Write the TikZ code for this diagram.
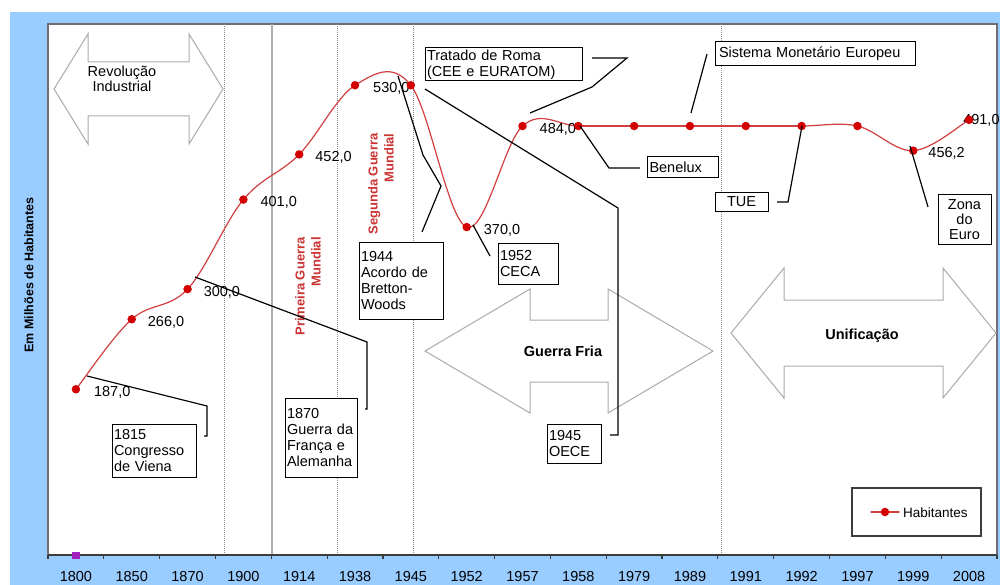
\documentclass[tikz,border=0pt]{standalone}
\usepackage{fontspec}
\setmainfont{Liberation Sans}
\usetikzlibrary{calc}
\definecolor{frameblue}{RGB}{153,204,255}
\definecolor{curvered}{RGB}{208,64,64}
\definecolor{markred}{RGB}{210,0,0}
\definecolor{labelred}{RGB}{204,51,51}
\definecolor{arrowgray}{RGB}{170,170,170}
\definecolor{gridgray}{RGB}{140,140,140}
\definecolor{solidgray}{RGB}{175,175,175}
\definecolor{axisgray}{RGB}{60,60,60}
\definecolor{bordergray}{RGB}{110,110,120}
\definecolor{markpurple}{RGB}{160,32,192}
\newcommand\fsA{\fontsize{14.5}{16}\selectfont}
\newcommand\fsB{\fontsize{14.5}{15}\selectfont}
\tikzset{
  curve/.style={curvered, line width=1.2pt, line cap=round},
  datadot/.style={circle, fill=markred, inner sep=0pt, minimum size=8.5pt},
  vallabel/.style={anchor=west, font=\fsA, inner sep=0pt},
  yearlabel/.style={font=\fsA, inner sep=0pt},
  callbox/.style={draw=black, fill=white, line width=1pt, font=\fsA, align=left, inner xsep=2pt, inner ysep=0pt},
  callline/.style={black, line width=1.2pt, line join=miter},
  bigarrow/.style={draw=arrowgray, fill=white, line width=1pt, line join=miter},
  vdot/.style={gridgray, line width=1pt, dash pattern=on 1pt off 1pt},
  vsolid/.style={solidgray, line width=1.5pt},
  axisline/.style={axisgray, line width=1.5pt},
  warlabel/.style={labelred, font=\fontsize{13}{16}\selectfont\bfseries, rotate=90, align=right, inner sep=0pt},
  arrowtext/.style={font=\fsA\bfseries, align=center, inner sep=0pt}
}
\begin{document}
\begin{tikzpicture}[x=1pt,y=-1pt]
\useasboundingbox (0,0) rectangle (1000,585);
% frame
\fill[white] (0,0) rectangle (1000,585);
\fill[frameblue] (10,12) rectangle (1000,585);
\fill[white] (48,24) rectangle (997,555);
\draw[bordergray, line width=1.2pt] (48,555) -- (48,24) -- (997,24) -- (997,555);

% y label
\node[rotate=90, font=\fontsize{12.5}{15}\selectfont\bfseries, inner sep=0pt] (ylab) at (29,275) {Em Milhões de Habitantes};

% vertical lines
\draw[vdot] (224,24) -- (224,555);
\draw[vsolid] (272,24) -- (272,555);
\draw[vdot] (337,24) -- (337,555);
\draw[vdot] (413,24) -- (413,555);
\draw[vdot] (721,24) -- (721,555);

% big double arrows
\draw[bigarrow] (54,89) -- (88,34) -- (88,62) -- (189,62) -- (189,34) -- (223,89) -- (189,144) -- (189,116) -- (88,116) -- (88,144) -- cycle;
\node[font=\fsB, align=center, inner sep=0pt] (revo) at (122,79) {Revolução\\Industrial};
\draw[bigarrow] (425,351) -- (530,289) -- (530,320) -- (608,320) -- (608,289) -- (713,351) -- (608,413) -- (608,382) -- (530,382) -- (530,413) -- cycle;
\node[arrowtext] (fria) at (563,351) {Guerra Fria};
\draw[bigarrow] (731,333) -- (784,268) -- (784,300) -- (943,300) -- (943,268) -- (996,333) -- (943,398) -- (943,366) -- (784,366) -- (784,398) -- cycle;
\node[arrowtext] (unif) at (862,336) {Unificação};

% war labels
\node[warlabel] (war1) at (308,286.5) {Primeira Guerra\\Mundial};
\node[warlabel] (war2) at (381,184) {Segunda Guerra\\Mundial};

% axis
\draw[axisline] (48,555) -- (997,555);
\foreach \i in {0,...,17} \draw[axisgray, line width=1.2pt] ({48+55.8235*\i},555) -- ++(0,4);
\foreach \i/\yr in {0/1800,1/1850,2/1870,3/1900,4/1914,5/1938,6/1945,7/1952,8/1957,9/1958,10/1979,11/1989,12/1991,13/1992,14/1997,15/1999,16/2008}
  \node[yearlabel] (yr\i) at ({48+55.8235*(\i+0.5)},577) {\yr};
\fill[markpurple] (72,551.5) rectangle (80,558.5);

% data points
\foreach \i/\v in {0/187,1/266,2/300,3/401,4/452,5/530,6/530,7/370,8/484,9/484,10/484,11/484,12/484,13/484,14/484,15/456.2,16/491}
  \coordinate (p\i) at ({48+55.8235*(\i+0.5)},{555-0.8863*\v});

% smoothed curve (Catmull-Rom)
\foreach \i in {0,...,15}{
  \pgfmathtruncatemacro\ia{max(\i-1,0)}
  \pgfmathtruncatemacro\ib{\i+1}
  \pgfmathtruncatemacro\ic{min(\i+2,16)}
  \draw[curve] (p\i) .. controls ($(p\i)+1/6*(p\ib)-1/6*(p\ia)$) and ($(p\ib)-1/6*(p\ic)+1/6*(p\i)$) .. (p\ib);
}

% value labels
\node[vallabel] (l0) at ($(p0)+(18,3)$) {187,0};
\node[vallabel] (l1) at ($(p1)+(16,3)$) {266,0};
\node[vallabel] (l2) at ($(p2)+(16,3)$) {300,0};
\node[vallabel] (l3) at ($(p3)+(17,3)$) {401,0};
\node[vallabel] (l4) at ($(p4)+(16,3)$) {452,0};
\node[vallabel] (l5) at ($(p5)+(18,3)$) {530,0};
\node[vallabel] (l7) at ($(p7)+(17,3)$) {370,0};
\node[vallabel] (l8) at ($(p8)+(17,3)$) {484,0};
\node[vallabel] (l15) at ($(p15)+(15,3)$) {456,2};
\node[vallabel] (l16) at ($(p16)+(-6,1)$) {491,0};

% markers
\foreach \i in {0,...,16} \node[datadot] (m\i) at (p\i) {};

% callout boxes
\node[callbox, minimum width=84pt, minimum height=53pt, text width=80pt] (b1815) at (154,450.5) {1815\\Congresso\\de Viena};
\node[callbox, minimum width=72pt, minimum height=79pt, text width=68pt] (b1870) at (321,437.5) {1870\\Guerra~da\\França~e\\Alemanha};
\node[callbox, minimum width=84pt, minimum height=77pt, text width=80pt] (b1944) at (401,280.5) {1944\\Acordo de\\Bretton-\\Woods};
\node[callbox, minimum width=60pt, minimum height=41pt, text width=56pt] (b1952) at (528,263.5) {1952\\CECA};
\node[callbox, minimum width=157pt, minimum height=33pt, text width=153pt] (broma) at (503.5,64.5) {Tratado de Roma\\(CEE e EURATOM)};
\node[callbox, minimum width=71pt, minimum height=21pt, text width=67pt] (bbene) at (683,167) {Benelux};
\node[callbox, minimum width=200pt, minimum height=24pt, text width=196pt, inner xsep=2pt] (bsme) at (815,54) {\hspace{2pt}Sistema Monetário Europeu};
\node[callbox, minimum width=53pt, minimum height=19pt, text width=49pt, align=center] (btue) at (741.5,202) {TUE};
\node[callbox, minimum width=53pt, minimum height=49pt, text width=49pt, align=center, font=\fontsize{14.5}{15}\selectfont] (beuro) at (964.5,219.5) {Zona\\do\\Euro};
\node[callbox, minimum width=54pt, minimum height=39pt, text width=50pt] (boece) at (574,443.5) {1945\\OECE};

% callout lines
\coordinate (c1815a) at (204,436); \coordinate (c1815b) at (207,436); \coordinate (c1815c) at (207,406); \coordinate (c1815d) at (87,376);
\draw[callline] (c1815a) -- (c1815b) -- (c1815c) -- (c1815d);
\coordinate (c1870a) at (365,409); \coordinate (c1870b) at (367,409); \coordinate (c1870c) at (367,342); \coordinate (c1870d) at (195,277);
\draw[callline] (c1870a) -- (c1870b) -- (c1870c) -- (c1870d);
\coordinate (c1944a) at (422,232); \coordinate (c1944b) at (441,186); \coordinate (c1944c) at (423,155); \coordinate (c1944d) at (398,76);
\draw[callline] (c1944a) -- (c1944b) -- (c1944c) -- (c1944d);
\coordinate (c1952a) at (490,256); \coordinate (c1952b) at (473,225);
\draw[callline] (c1952a) -- (c1952b);
\coordinate (cromaa) at (592,58); \coordinate (cromab) at (627,58); \coordinate (cromac) at (592,87); \coordinate (cromad) at (530,113);
\draw[callline] (cromaa) -- (cromab) -- (cromac) -- (cromad);
\coordinate (cbenea) at (640,168); \coordinate (cbeneb) at (609,168); \coordinate (cbenec) at (580,126);
\draw[callline] (cbenea) -- (cbeneb) -- (cbenec);
\coordinate (csmea) at (707,54); \coordinate (csmeb) at (691,113);
\draw[callline] (csmea) -- (csmeb);
\coordinate (ctuea) at (777,202); \coordinate (ctueb) at (788,202); \coordinate (ctuec) at (802,126);
\draw[callline] (ctuea) -- (ctueb) -- (ctuec);
\coordinate (ceuroa) at (928,207); \coordinate (ceurob) at (910,146);
\draw[callline] (ceuroa) -- (ceurob);
\coordinate (coecea) at (610,435); \coordinate (coeceb) at (618,435); \coordinate (coecec) at (618,208); \coordinate (coeced) at (425,89);
\draw[callline] (coecea) -- (coeceb) -- (coecec) -- (coeced);

% legend
\node[draw=axisgray, fill=white, line width=1.2pt, minimum width=129pt, minimum height=48pt, inner sep=0pt] (legend) at (916.5,512) {};
\coordinate (lga) at (871,512); \coordinate (lgb) at (899,512);
\draw[curve] (lga) -- (lgb);
\node[datadot] (lgdot) at (885,512) {};
\node[anchor=west, font=\fontsize{13.5}{15}\selectfont, inner sep=0pt] (lgtext) at (903,513) {Habitantes};
\end{tikzpicture}
\end{document}
